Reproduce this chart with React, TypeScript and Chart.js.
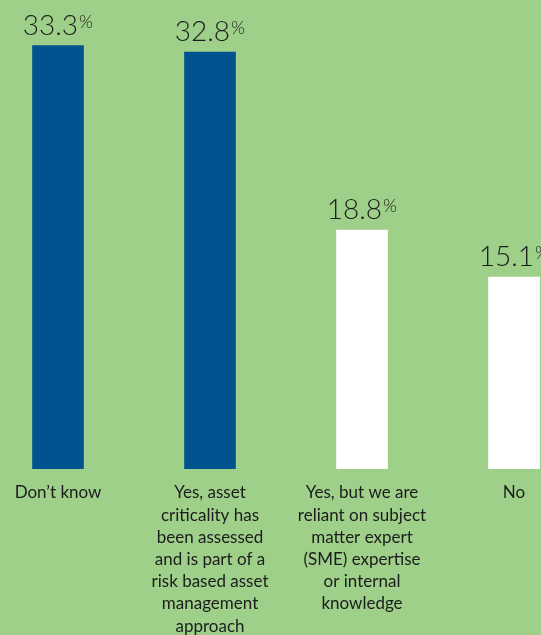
import React, { useEffect, useRef } from "react";
import { Chart, registerables } from "chart.js";

Chart.register(...registerables);

const categoryLines: string[][] = [
  ["Don’t know"],
  ["Yes, asset", "criticality has", "been assessed", "and is part of a", "risk based asset", "management", "approach"],
  ["Yes, but we are", "reliant on subject", "matter expert", "(SME) expertise", "or internal", "knowledge"],
  ["No"],
];
const values: number[] = [33.3, 32.8, 18.8, 15.1];
const barColors: string[] = ["#00538f", "#00538f", "#ffffff", "#ffffff"];

const BG = "#9fd08a";
const TEXT = "#1c1c1c";
const FONT = "Lato, 'Open Sans', sans-serif";

const labelPlugin = {
  id: "customLabels",
  afterDatasetsDraw(chart: any) {
    const ctx = chart.ctx;
    const meta = chart.getDatasetMeta(0);
    const xScale = chart.scales.x;
    const area = chart.chartArea;
    ctx.save();
    ctx.fillStyle = TEXT;
    // value labels
    meta.data.forEach((bar: any, i: number) => {
      const num = values[i].toFixed(1);
      const numFont = `300 28px ${FONT}`;
      const pctFont = `300 18px ${FONT}`;
      ctx.font = numFont;
      const wNum = ctx.measureText(num).width;
      ctx.font = pctFont;
      const wPct = ctx.measureText("%").width;
      const gap = 1;
      const total = wNum + gap + wPct;
      const cx = bar.x;
      const y = bar.y - 11;
      ctx.textAlign = "left";
      ctx.textBaseline = "alphabetic";
      ctx.font = numFont;
      ctx.fillText(num, cx - total / 2, y);
      ctx.font = pctFont;
      ctx.fillText("%", cx - total / 2 + wNum + gap, y - 7);
    });
    // category labels
    ctx.font = `17px ${FONT}`;
    ctx.textAlign = "center";
    ctx.textBaseline = "middle";
    categoryLines.forEach((lines, i) => {
      const cx = xScale.getPixelForValue(i);
      lines.forEach((line, k) => {
        ctx.fillText(line, cx, area.bottom + 24 + k * 22.2);
      });
    });
    ctx.restore();
  },
};

export default function App() {
  const ref = useRef<HTMLCanvasElement | null>(null);
  useEffect(() => {
    if (!ref.current) return;
    const chart = new Chart(ref.current, {
      type: "bar",
      data: {
        labels: categoryLines.map((l) => l.join(" ")),
        datasets: [
          {
            data: values,
            backgroundColor: barColors,
            borderWidth: 0,
            barThickness: 51,
          },
        ],
      },
      options: {
        responsive: false,
        animation: false,
        devicePixelRatio: 1,
        layout: { padding: { top: 24, bottom: 166, left: 0, right: 2 } },
        plugins: {
          legend: { display: false },
          tooltip: { enabled: false },
        },
        scales: {
          x: { display: false },
          y: { display: false, min: 0, max: 35 },
        },
      },
      plugins: [labelPlugin],
    });
    return () => chart.destroy();
  }, []);
  return (
    <div
      style={{
        position: "fixed",
        left: 0,
        top: 0,
        width: 541,
        height: 635,
        overflow: "hidden",
        background: BG,
      }}
    >
      <canvas
        ref={ref}
        width={610}
        height={635}
        style={{ position: "absolute", left: -18, top: 0, width: 610, height: 635 }}
      />
    </div>
  );
}
